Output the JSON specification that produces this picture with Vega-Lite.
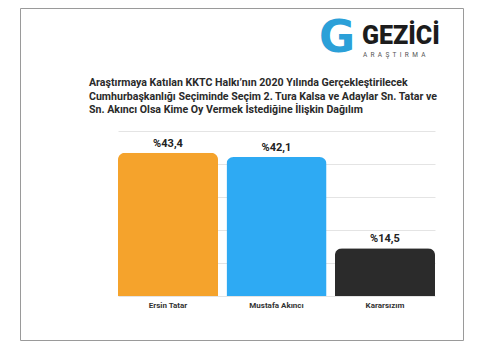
{
  "$schema": "https://vega.github.io/schema/vega-lite/v6.json",
  "width": 443,
  "height": 332,
  "autosize": {"type": "none"},
  "padding": {"left": 20, "top": 8, "right": 18, "bottom": 17},
  "background": "#ffffff",
  "config": {
    "view": {"stroke": "#9a9a9a", "strokeWidth": 1},
    "font": "Roboto"
  },
  "title": {
    "text": [
      "Araştırmaya Katılan KKTC Halkı’nın 2020 Yılında Gerçekleştirilecek",
      "Cumhurbaşkanlığı Seçiminde Seçim 2. Tura Kalsa ve Adaylar Sn. Tatar ve",
      "Sn. Akıncı Olsa Kime Oy Vermek İstediğine İlişkin Dağılım"
    ],
    "anchor": "start",
    "frame": "group",
    "orient": "top",
    "offset": -108,
    "dx": 69,
    "baseline": "top",
    "font": "Roboto",
    "fontSize": 10.6,
    "fontWeight": "bold",
    "color": "#2a2a2a",
    "lineHeight": 13.8
  },
  "datasets": {
    "logo": [{"logo": "GEZİCİ", "sub": "A\u2002R\u2002A\u2002Ş\u2002T\u2002I\u2002R\u2002M\u2002A", "g": "G"}]
  },
  "data": {
    "values": [
      {"aday": "Ersin Tatar", "oran": 43.4, "label": "%43,4"},
      {"aday": "Mustafa Akıncı", "oran": 42.1, "label": "%42,1"},
      {"aday": "Kararsızım", "oran": 14.5, "label": "%14,5"}
    ]
  },
  "layer": [
    {
      "mark": {"type": "bar", "cornerRadiusTopLeft": 7, "cornerRadiusTopRight": 7},
      "encoding": {
        "x": {
          "field": "aday",
          "type": "nominal",
          "sort": null,
          "scale": {"range": [98, 415], "paddingInner": 0.078, "paddingOuter": 0},
          "axis": {
            "title": null,
            "orient": "bottom",
            "offset": -44,
            "domain": false,
            "ticks": false,
            "labelAngle": 0,
            "labelFont": "Roboto",
            "labelFontSize": 8,
            "labelFontWeight": "bold",
            "labelColor": "#333333",
            "labelPadding": 5
          }
        },
        "y": {
          "field": "oran",
          "type": "quantitative",
          "scale": {"domain": [0, 50], "range": [288, 123], "nice": false},
          "axis": {
            "title": null,
            "values": [0, 10, 20, 30, 40, 50],
            "labels": false,
            "ticks": false,
            "domain": false,
            "grid": true,
            "gridColor": "#e4e4e4",
            "gridWidth": 1
          }
        },
        "color": {
          "field": "aday",
          "type": "nominal",
          "sort": null,
          "scale": {"range": ["#f5a32c", "#2eaaf3", "#2b2b2b"]},
          "legend": null
        }
      }
    },
    {
      "mark": {"type": "text", "baseline": "bottom", "dy": -4, "font": "Roboto", "fontSize": 11, "fontWeight": "bold", "color": "#222222"},
      "encoding": {
        "x": {"field": "aday", "type": "nominal", "sort": null},
        "y": {"field": "oran", "type": "quantitative"},
        "text": {"field": "label"}
      }
    },
    {
      "data": {"name": "logo"},
      "mark": {"type": "text", "font": "Roboto", "fontWeight": 900, "fontSize": 25, "color": "#1c1c1c", "baseline": "middle", "align": "left", "dx": -23},
      "encoding": {
        "x": {"datum": "Kararsızım", "type": "nominal"},
        "y": {"datum": 78.8, "type": "quantitative"},
        "text": {"field": "logo"}
      }
    },
    {
      "data": {"name": "logo"},
      "mark": {"type": "text", "font": "Roboto", "fontSize": 6.5, "color": "#555555", "baseline": "middle", "align": "left", "dx": -22},
      "encoding": {
        "x": {"datum": "Kararsızım", "type": "nominal"},
        "y": {"datum": 73.0, "type": "quantitative"},
        "text": {"field": "sub"}
      }
    },
    {
      "data": {"name": "logo"},
      "mark": {"type": "text", "font": "DejaVu Sans", "fontWeight": "bold", "fontSize": 44, "color": "#2ba0d8", "baseline": "middle", "align": "center", "dx": -48},
      "encoding": {
        "x": {"datum": "Kararsızım", "type": "nominal"},
        "y": {"datum": 78.0, "type": "quantitative"},
        "text": {"field": "g"}
      }
    }
  ]
}
